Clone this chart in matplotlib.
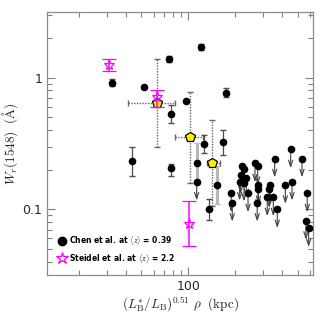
import numpy as np
import matplotlib.pyplot as plt

plt.rcParams['mathtext.fontset'] = 'cm'

# Chen et al. detections
chen_x = [32.4, 43.8, 51.9, 75.2, 77.5, 77.8, 96.7, 121, 126, 136, 166, 173]
chen_y = [0.92, 0.234, 0.85, 1.39, 0.53, 0.205, 0.67, 1.72, 0.316, 0.10, 0.326, 0.766]
chen_lo = [0.87, 0.18, 0.85, 1.32, 0.45, 0.18, 0.67, 1.63, 0.27, 0.083, 0.26, 0.72]
chen_hi = [0.98, 0.30, 0.85, 1.46, 0.62, 0.22, 0.67, 1.81, 0.37, 0.12, 0.40, 0.83]

# detections with wide grey bars
grey_x = [113, 152]
grey_y = [0.223, 0.153]
grey_lo = [0.163, 0.109]
grey_hi = [0.32, 0.213]

# Chen et al. upper limits
lim_x = [113, 188, 191, 222, 228, 216, 213, 235, 227, 241, 267, 278, 281, 279, 276,
         335, 330, 320, 350, 371, 357, 452, 418, 461, 534, 577, 566, 589]
lim_y = [0.162, 0.132, 0.112, 0.213, 0.203, 0.182, 0.162, 0.172, 0.159, 0.132, 0.223,
         0.213, 0.152, 0.143, 0.112, 0.153, 0.142, 0.123, 0.123, 0.10, 0.243, 0.285,
         0.153, 0.162, 0.243, 0.132, 0.0815, 0.0718]

# Steidel et al. stars
st_x = [31.0, 62.8, 100.6]
st_y = [1.25, 0.71, 0.0766]
st_lo = [1.13, 0.60, 0.0525]
st_hi = [1.386, 0.81, 0.115]

# binned averages (yellow pentagons)
bin_x = [62.8, 102.5, 141.8]
bin_y = [0.643, 0.355, 0.223]
bin_xlo = [40.9, 81.8, 131]
bin_xhi = [81.8, 124.7, 160]
bin_ylo = [0.297, 0.159, 0.105]
bin_yhi = [1.386, 0.774, 0.48]

fig = plt.figure(figsize=(3.24, 3.13), dpi=100)
ax = fig.add_axes([0.146, 0.1214, 0.819, 0.8403])
ax.set_xscale('log')
ax.set_yscale('log')

# grey bars
gy = np.array(grey_y)
ax.errorbar(grey_x, grey_y, yerr=[gy - np.array(grey_lo), np.array(grey_hi) - gy],
            fmt='none', ecolor='0.72', elinewidth=2.2, capsize=2, zorder=1)

# binned points with dotted bars
bx, by = np.array(bin_x), np.array(bin_y)
eb = ax.errorbar(bin_x, bin_y,
                 xerr=[bx - np.array(bin_xlo), np.array(bin_xhi) - bx],
                 yerr=[by - np.array(bin_ylo), np.array(bin_yhi) - by],
                 fmt='none', ecolor='0.4', elinewidth=1.0, capsize=2, zorder=2)
for lc in eb[2]:
    lc.set_linestyle((0, (1, 1)))

# upper limits
for x, y in zip(lim_x, lim_y):
    ax.annotate('', xy=(x, y * 0.72), xytext=(x, y),
                arrowprops=dict(arrowstyle='->,head_length=0.45,head_width=0.15',
                                color='0.25', lw=0.8, shrinkA=0, shrinkB=0),
                zorder=3)
ax.plot(lim_x, lim_y, 'o', color='black', ms=4.5, zorder=4)

# detections
cy = np.array(chen_y)
ax.errorbar(chen_x, chen_y, yerr=[cy - np.array(chen_lo), np.array(chen_hi) - cy],
            fmt='o', color='black', ms=4.5, ecolor='0.3', elinewidth=0.9,
            capsize=2.5, zorder=4)
ax.plot(grey_x, grey_y, 'o', color='black', ms=4.5, zorder=4)

# pentagons
ax.plot(bin_x, bin_y, 'p', color='#ffee00', mec='black', mew=0.9, ms=7, zorder=5)

# Steidel stars
sy = np.array(st_y)
ax.errorbar(st_x, st_y, yerr=[sy - np.array(st_lo), np.array(st_hi) - sy],
            fmt='*', mfc='none', mec='magenta', ms=8, mew=0.9,
            ecolor='magenta', elinewidth=1.1, capsize=5, capthick=1.1, zorder=6)

ax.set_xlim(12.5, 625)
ax.set_ylim(10 ** -1.5, 10 ** 0.5)

ax.set_xticks([100])
ax.set_xticklabels(['100'])
ax.set_yticks([0.1, 1])
ax.set_yticklabels(['0.1', '1'])
ax.tick_params(which='both', direction='in', top=True, right=True, color='0.5',
               labelcolor='0.15', labelsize=9)
ax.tick_params(which='major', length=6, width=0.8)
ax.tick_params(which='minor', length=3.5, width=0.8)
for s in ax.spines.values():
    s.set_color('0.55')
    s.set_linewidth(0.9)

ax.set_xlabel(r'$(L^{*}_{\rm B}/L_{\rm B})^{0.51}\ \rho\ \ ({\rm kpc})$', fontsize=9.5,
              color='0.15', labelpad=1)
ax.set_ylabel(r'$W_r(1548)\ \ ({\rm \AA})$', fontsize=9.5, color='0.15', labelpad=2)

h1 = plt.Line2D([], [], ls='none', marker='o', color='black', ms=6)
h2 = plt.Line2D([], [], ls='none', marker='*', mfc='none', mec='magenta', ms=9, mew=0.9)
ax.legend([h1, h2], [r'Chen et al. at $\langle z \rangle$ = 0.39',
                     r'Steidel et al. at $\langle z \rangle$ = 2.2'],
          loc='lower left', frameon=False, prop={'size': 5.5, 'weight': 'bold'},
          handletextpad=0.3, borderaxespad=0.9, labelspacing=0.6, handlelength=1.2)

fig.savefig('out.png', dpi=100)
